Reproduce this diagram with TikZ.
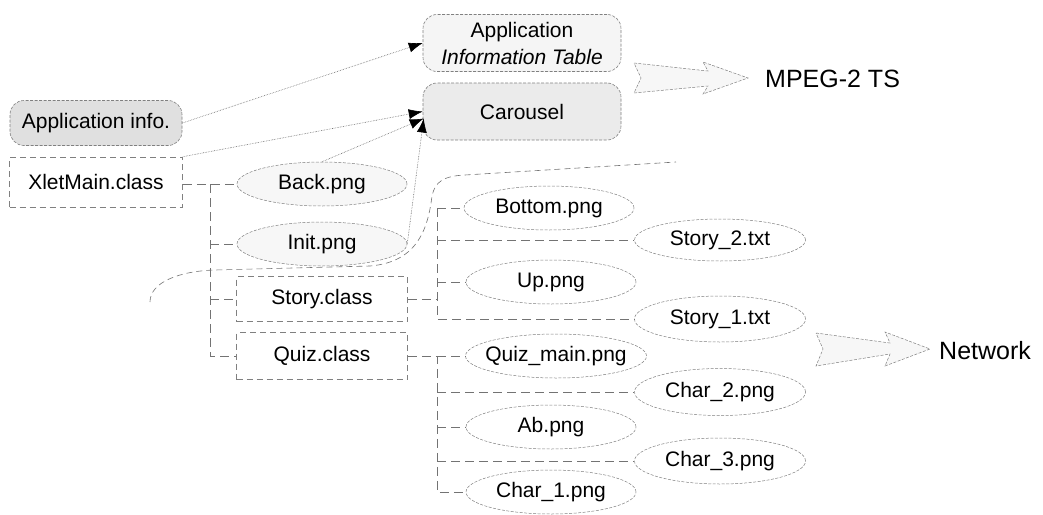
\documentclass[tikz,border=0pt]{standalone}
\usepackage{fontspec}
\setmainfont{Liberation Sans}
\usetikzlibrary{shapes.geometric,arrows.meta,calc}
\newcommand\zb[1]{\makebox[0pt]{#1}}
\begin{document}
\begin{tikzpicture}[x=1pt,y=-1pt, font=\fontsize{21}{27}\selectfont,
 fileell/.style={ellipse, draw=black!50, line width=0.5pt, dash pattern=on 3pt off 1.5pt, minimum width=170pt, minimum height=44pt, inner sep=0pt},
 classbox/.style={rectangle, draw=black!50, line width=0.6pt, dash pattern=on 6pt off 4pt, minimum width=172pt, minimum height=47pt, inner sep=0pt},
 rbox/.style={rectangle, rounded corners=14pt, draw=black!50, line width=0.6pt, dash pattern=on 3pt off 1.5pt, minimum width=198pt, minimum height=57pt, inner sep=0pt},
 tree/.style={draw=black!55, line width=0.6pt, dash pattern=on 9pt off 5pt},
 sep/.style={draw=black!55, line width=0.6pt, dash pattern=on 6pt off 4pt},
 link/.style={draw=black!60, line width=0.6pt, densely dotted, -{Latex[length=14pt,width=10pt,black]}},
 hollow/.style={draw=black!50, line width=0.5pt, dash pattern=on 3pt off 1.5pt, fill=black!3},
 big/.style={font=\fontsize{25}{30}\selectfont, inner sep=0pt, anchor=west}]
\useasboundingbox (0,0) rectangle (1043,514);

% top boxes
\node[rbox, fill=black!4, align=center] (ait) at (522,43) {Application\\\itshape Information Table};
\node[rbox, fill=black!8] (car) at (522,111.5) {Carousel};
\node[rbox, fill=black!12, minimum width=172pt, minimum height=45pt] (appinfo) at (96,123) {Application info.};
\node[classbox, minimum width=173pt, minimum height=50pt] (xlet) at (96,182) {XletMain.class};

% hollow arrows and targets
\node[big] (mpeg) at (765,79) {MPEG-2 TS};
\node[big] (net) at (939,351) {Network};
\draw[hollow] (634,63) -- (708,71) -- (703,62) -- (748,78) -- (703,94) -- (708,86) -- (634,93) -- (641,78) -- cycle;
\draw[hollow] (816,333) -- (890,343) -- (885,332) -- (930,349) -- (885,366) -- (890,354) -- (816,366) -- (823,349) -- cycle;

% carousel files
\node[fileell, fill=black!3] (back) at (322,184) {\zb{Back.png}};
\node[fileell, fill=black!3] (init) at (322,244) {\zb{Init.png}};

% classes
\node[classbox, minimum width=171pt, minimum height=45pt] (story) at (322,299) {Story.class};
\node[classbox, minimum width=171pt, minimum height=47pt] (quiz) at (322,356) {Quiz.class};

% network files
\node[fileell] (bottom) at (549,208) {\zb{Bottom.png}};
\node[fileell, minimum width=171pt, minimum height=42pt] (story2) at (720,240) {\zb{Story\_2.txt}};
\node[fileell] (up) at (551,282) {\zb{Up.png}};
\node[fileell, minimum width=171pt, minimum height=46pt] (story1) at (720,319) {\zb{Story\_1.txt}};
\node[fileell, minimum width=181pt] (quizmain) at (556,356) {\zb{Quiz\_main.png}};
\node[fileell, minimum width=171pt, minimum height=47pt] (char2) at (720,392) {\zb{Char\_2.png}};
\node[fileell] (ab) at (551,427) {\zb{Ab.png}};
\node[fileell, minimum width=171pt, minimum height=46pt] (char3) at (720,461) {\zb{Char\_3.png}};
\node[fileell] (char1) at (551,492) {\zb{Char\_1.png}};

% links to AIT / carousel
\coordinate (cartip) at ($(car.west)+(1,7)$);
\draw[link] (appinfo.east) -- (ait.west);
\draw[link] (xlet.north east) -- (car.west);
\draw[link] (back.north) -- (cartip);
\draw[link] (init.east) -- (cartip);

% XletMain tree
\coordinate (jx) at (210,184);
\draw[tree] (xlet.east |- back.west) -- (back.west);
\draw[tree] (jx) -- (jx |- quiz.west) -- (quiz.west);
\draw[tree] (jx |- init.west) -- (init.west);
\draw[tree] (jx |- story.west) -- (story.west);

% Story tree
\coordinate (js) at (437,208);
\draw[tree] (story.east) -- (story.east -| js);
\draw[tree] (js |- bottom.west) -- (js |- story1.west) -- (story1.west);
\draw[tree] (js |- bottom.west) -- (bottom.west);
\draw[tree] (js |- story2.west) -- (story2.west);
\draw[tree] (js |- up.west) -- (up.west);

% Quiz tree
\draw[tree] (quiz.east) -- (quiz.east -| js) -- (js |- char1.west) -- (char1.west);
\draw[tree] (js |- quizmain.west) -- (quizmain.west);
\draw[tree] (js |- char2.west) -- (char2.west);
\draw[tree] (js |- ab.west) -- (ab.west);
\draw[tree] (js |- char3.west) -- (char3.west);

% separating curve
\draw[sep] (150,302) .. controls (150,282) and (180,271) .. (215,270) -- (370,266)
  .. controls (418,262) and (428,228) .. (432,196) .. controls (435,182) and (443,176) .. (465,175) -- (676,162);
\end{tikzpicture}
\end{document}
